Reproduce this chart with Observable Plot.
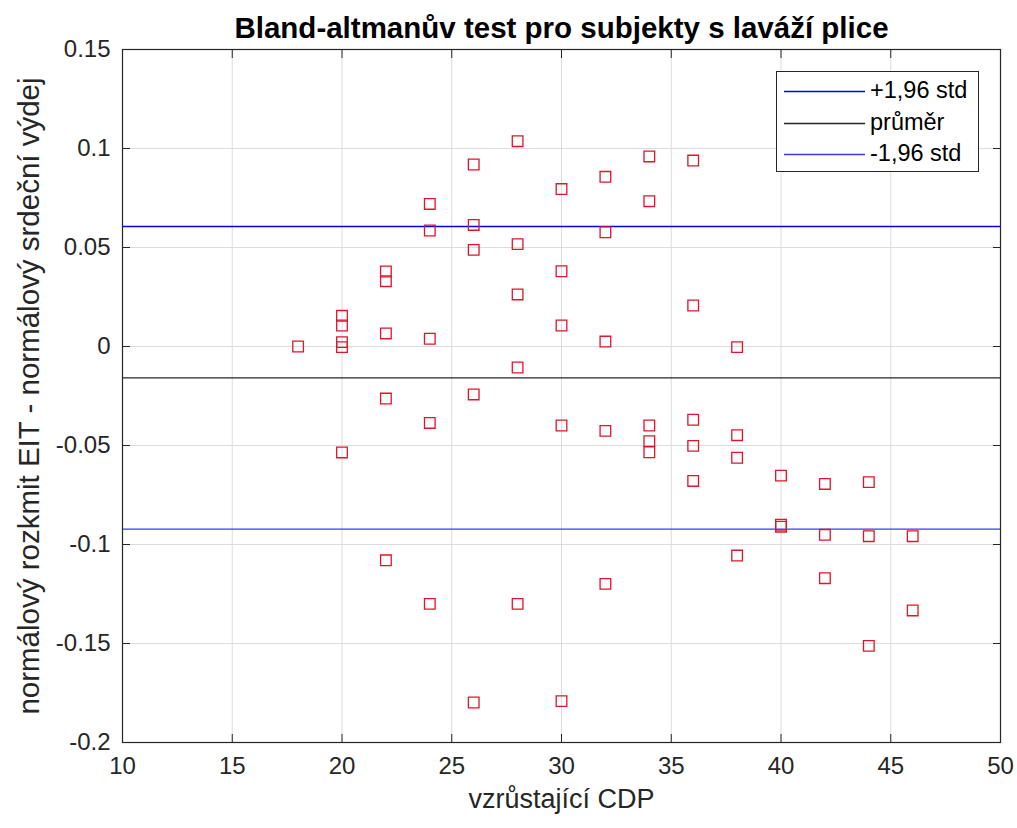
<!DOCTYPE html>
<html>
<head>
<meta charset="utf-8">
<script src="https://cdn.jsdelivr.net/npm/d3@7"></script>
<script src="https://cdn.jsdelivr.net/npm/@observablehq/plot@0.6"></script>
<style>
  html, body { margin: 0; padding: 0; background: #fff; }
  #chart { position: relative; width: 1017px; height: 828px; font-family: "Liberation Sans", Arial, Helvetica, sans-serif; }
  #legend {
    position: absolute; left: 776px; top: 71px; width: 201px; height: 99px;
    background: #fff; border: 1px solid #262626; font-size: 23.5px; color: #000;
  }
  #legend .row { position: absolute; left: 0; height: 30px; width: 100%; }
  #legend svg { position: absolute; left: 6px; top: -2px; }
  #legend .lbl { position: absolute; left: 93px; top: -15px; line-height: 28px; white-space: nowrap; }
</style>
</head>
<body>
<div id="chart"></div>
<script>
// Bland-Altman data: CDP level vs. difference of normalised EIT swing and cardiac output
const cdp = [
  18,
  20, 20, 20, 20, 20,
  22, 22, 22, 22, 22,
  24, 24, 24, 24, 24,
  26, 26, 26, 26, 26,
  28, 28, 28, 28, 28,
  30, 30, 30, 30, 30,
  32, 32, 32, 32, 32,
  34, 34, 34, 34, 34,
  36, 36, 36, 36, 36,
  38, 38, 38, 38,
  40, 40, 40,
  42, 42, 42,
  44, 44, 44,
  46, 46
];
const diff = [
  0.0000,
  0.0155, 0.0106, 0.0022, -0.0003, -0.0535,
  0.0379, 0.0330, 0.0066, -0.0263, -0.1080,
  0.0720, 0.0586, 0.0039, -0.0386, -0.1300,
  0.0919, 0.0614, 0.0488, -0.0242, -0.1798,
  0.1037, 0.0517, 0.0263, -0.0106, -0.1300,
  0.0795, 0.0380, 0.0106, -0.0399, -0.1791,
  0.0857, 0.0577, 0.0025, -0.0426, -0.1199,
  0.0960, 0.0734, -0.0399, -0.0478, -0.0534,
  0.0939, 0.0207, -0.0370, -0.0502, -0.0679,
  -0.0003, -0.0448, -0.0562, -0.1056,
  -0.0652, -0.0900, -0.0910,
  -0.0694, -0.0951, -0.1170,
  -0.0685, -0.0958, -0.1512,
  -0.0958, -0.1333
];

// Reference lines: mean difference and limits of agreement (mean ± 1.96 SD)
const lineNames = ["+1,96 std", "průměr", "-1,96 std"];
const lineValues = [0.0606, -0.0158, -0.0922];
const lineColors = ["#0000ee", "#262626", "#3a3af2"];

const xTicks = [10, 15, 20, 25, 30, 35, 40, 45, 50];
const yTicks = [-0.2, -0.15, -0.1, -0.05, 0, 0.05, 0.1, 0.15];

const titleText = "Bland-altmanův test pro subjekty s laváží plice";
const xLabel = "vzrůstající CDP";
const yLabel = "normálový rozkmit EIT - normálový srdeční výdej";

const points = cdp.map((x, i) => ({x, y: diff[i]}));
const lines = lineNames.map((name, i) => ({name, value: lineValues[i], color: lineColors[i]}));

const axisColor = "#262626";
const gridColor = "#dcdcdc";
const fmt = d => String(d);

const chart = Plot.plot({
  width: 1017,
  height: 828,
  marginLeft: 122,
  marginRight: 17,
  marginTop: 49,
  marginBottom: 86,
  style: {fontFamily: '"Liberation Sans", Arial, Helvetica, sans-serif', fontSize: "24px", color: "#262626", background: "#fff", overflow: "visible"},
  x: {domain: [10, 50]},
  y: {domain: [-0.2, 0.15]},
  marks: [
    Plot.gridX(xTicks, {stroke: gridColor, strokeOpacity: 1}),
    Plot.gridY(yTicks, {stroke: gridColor, strokeOpacity: 1}),
    // tick labels
    Plot.axisX(xTicks, {anchor: "bottom", tickSize: 0, tickPadding: 14, tickFormat: fmt, fontSize: 24, label: null, fill: axisColor}),
    Plot.axisY(yTicks, {anchor: "left", tickSize: 0, tickPadding: 12, tickFormat: fmt, fontSize: 24, label: null, fill: axisColor}),
    // inward tick marks on all four sides
    Plot.axisX(xTicks, {anchor: "bottom", tickSize: -8, text: null, label: null, stroke: axisColor}),
    Plot.axisX(xTicks, {anchor: "top", tickSize: -8, text: null, label: null, stroke: axisColor}),
    Plot.axisY(yTicks, {anchor: "left", tickSize: -8, text: null, label: null, stroke: axisColor}),
    Plot.axisY(yTicks, {anchor: "right", tickSize: -8, text: null, label: null, stroke: axisColor}),
    // mean and agreement limits
    Plot.ruleY(lines, {y: "value", stroke: "color", strokeWidth: 1.3}),
    // measurements
    Plot.dot(points, {x: "x", y: "y", symbol: "square", r: 6, fill: "none", stroke: "#e0142a", strokeWidth: 1.3}),
    Plot.frame({stroke: axisColor, strokeWidth: 1.2}),
    // title and axis labels
    Plot.text([titleText], {frameAnchor: "top", dy: -32, fontSize: 29.5, fontWeight: "bold", fill: "#000"}),
    Plot.text([xLabel], {frameAnchor: "bottom", dy: 65, fontSize: 27, fill: axisColor}),
    Plot.text([yLabel], {frameAnchor: "left", dx: -93, rotate: -90, textAnchor: "middle", fontSize: 29.5, fill: axisColor})
  ]
});

const container = document.getElementById("chart");
container.appendChild(chart);

// legend box inside the plot area
const legend = document.createElement("div");
legend.id = "legend";
const rowTops = [19, 51, 82];
const ns = "http://www.w3.org/2000/svg";
lines.forEach((d, i) => {
  const row = document.createElement("div");
  row.className = "row";
  row.style.top = rowTops[i] + "px";
  const sw = document.createElementNS(ns, "svg");
  sw.setAttribute("width", 84);
  sw.setAttribute("height", 4);
  const ln = document.createElementNS(ns, "line");
  ln.setAttribute("x1", 1);
  ln.setAttribute("x2", 82);
  ln.setAttribute("y1", 2.5);
  ln.setAttribute("y2", 2.5);
  ln.setAttribute("stroke", d.color);
  ln.setAttribute("stroke-width", 1.3);
  sw.appendChild(ln);
  const lbl = document.createElement("div");
  lbl.className = "lbl";
  lbl.textContent = d.name;
  row.appendChild(sw);
  row.appendChild(lbl);
  legend.appendChild(row);
});
container.appendChild(legend);
</script>
</body>
</html>
